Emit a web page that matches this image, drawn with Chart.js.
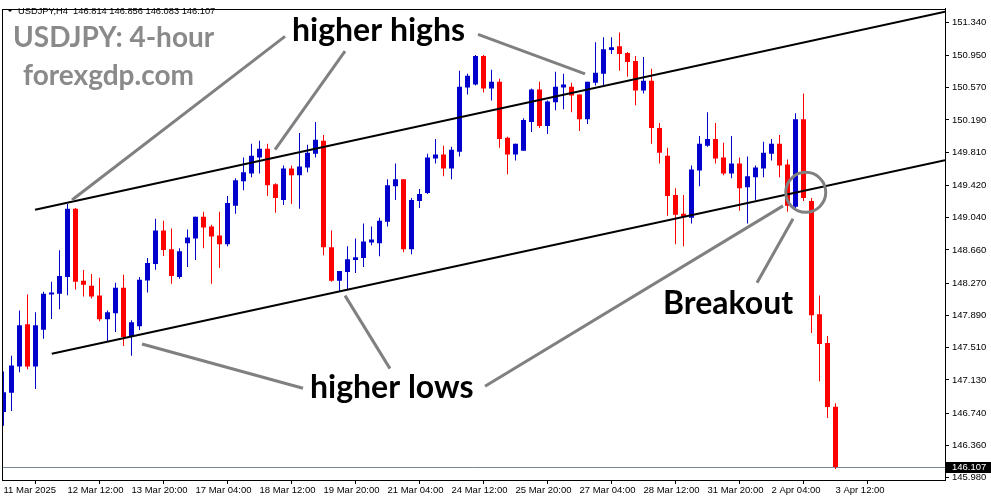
<!DOCTYPE html>
<html>
<head>
<meta charset="utf-8">
<script src="https://cdn.jsdelivr.net/npm/chart.js@4.4.1/dist/chart.umd.min.js"></script>
<style>
  html, body { margin: 0; padding: 0; background: #fff; }
  #c { display: block; }
</style>
</head>
<body>
<canvas id="c" width="991" height="501"></canvas>
<script>
// === USDJPY H4 candles ===
const opens = [
  146.754,146.980,147.288,147.786,147.288,147.720,148.135,148.146,148.343,149.144,
  148.297,148.239,148.123,147.844,147.914,148.216,147.636,147.763,148.300,148.494,
  148.889,148.668,148.343,148.738,148.796,149.051,148.935,148.831,148.726,149.179,
  149.469,149.561,149.747,149.851,149.434,149.248,149.619,149.538,149.631,149.793,
  149.944,148.691,148.297,148.401,148.541,148.564,148.749,148.738,148.993,149.411,
  149.492,148.668,149.237,149.329,149.735,149.782,149.619,149.817,150.571,150.606,
  150.942,150.559,150.640,149.979,149.782,149.828,150.165,150.548,150.118,150.397,
  150.571,150.582,150.490,150.199,150.629,150.733,151.012,151.058,150.977,150.884,
  150.536,150.652,150.095,149.770,149.306,149.086,149.039,149.596,149.886,149.967,
  149.747,149.561,149.677,149.399,149.515,149.619,149.793,149.909,149.666,149.167,
  150.199,149.237,147.902,147.566,146.814
];
const highs = [
  147.230,147.415,147.949,148.135,147.926,148.169,148.285,148.657,149.202,149.155,
  148.425,148.378,148.332,147.949,148.274,148.367,147.833,148.343,148.564,149.028,
  149.005,148.912,148.680,148.900,149.051,149.109,148.958,149.109,149.295,149.503,
  149.747,149.909,149.944,149.909,149.445,149.654,149.654,150.037,149.898,150.165,
  150.014,148.889,148.413,148.703,148.796,148.970,148.935,149.039,149.492,149.677,
  149.492,149.271,149.376,149.793,149.967,149.886,149.875,150.768,150.733,150.954,
  150.954,150.780,150.675,149.991,149.909,150.211,150.559,150.640,150.420,150.756,
  150.733,150.629,150.490,150.640,151.104,151.162,151.162,151.220,150.988,150.942,
  150.930,150.791,150.153,149.863,149.387,149.306,149.654,150.002,150.281,150.153,
  149.921,150.002,149.747,149.759,149.654,149.933,149.967,150.014,149.724,150.269,
  150.501,149.271,148.123,147.647,146.856
];
const lows = [
  146.592,146.766,147.222,147.256,147.024,147.616,147.848,147.961,148.127,148.196,
  148.111,148.088,147.821,147.589,147.694,147.531,147.415,147.717,148.158,148.428,
  148.590,148.262,148.320,148.459,148.541,148.680,148.262,148.448,148.703,149.086,
  149.364,149.515,149.561,149.295,149.097,149.190,149.202,149.144,149.573,149.747,
  148.599,148.285,148.169,148.193,148.390,148.459,148.715,148.587,148.935,149.248,
  148.633,148.610,149.155,149.318,149.677,149.527,149.492,149.759,150.490,150.594,
  150.513,150.420,149.863,149.550,149.712,149.828,150.049,150.095,150.025,150.304,
  150.315,150.281,150.060,150.141,150.594,150.594,150.965,150.768,150.698,150.362,
  150.501,149.909,149.677,149.063,148.726,148.703,148.970,149.411,149.875,149.677,
  149.538,149.503,149.121,148.970,149.248,149.515,149.712,149.515,149.109,149.155,
  149.237,147.682,147.114,146.684,146.083
];
const closes = [
  146.986,147.299,147.775,147.288,147.775,148.146,148.158,148.355,149.144,148.285,
  148.251,148.111,147.844,147.926,148.216,147.636,147.810,148.309,148.506,148.889,
  148.660,148.355,148.645,148.807,149.051,148.923,148.819,148.726,149.213,149.480,
  149.573,149.770,149.851,149.422,149.271,149.619,149.538,149.643,149.805,149.956,
  148.691,148.297,148.413,148.552,148.575,148.761,148.784,149.005,149.422,149.492,
  148.668,149.248,149.318,149.747,149.782,149.619,149.840,150.582,150.710,150.942,
  150.559,150.640,149.967,149.782,149.909,150.188,150.548,150.118,150.408,150.582,
  150.606,150.478,150.199,150.640,150.745,151.023,151.046,150.965,150.872,150.536,
  150.652,150.095,149.805,149.295,149.074,149.051,149.608,149.909,149.967,149.735,
  149.561,149.677,149.387,149.527,149.631,149.805,149.909,149.654,149.179,150.199,
  149.271,147.891,147.554,146.812,146.107
];

// Axis ticks
const dateTickIdx = [0, 8, 16, 24, 32, 40, 48, 56, 64, 72, 80, 88, 96, 104];
const dateTickLabels = ['11 Mar 2025', '12 Mar 12:00', '13 Mar 20:00', '17 Mar 04:00', '18 Mar 12:00',
  '19 Mar 20:00', '21 Mar 04:00', '24 Mar 12:00', '25 Mar 20:00', '27 Mar 04:00',
  '28 Mar 12:00', '31 Mar 20:00', '2 Apr 04:00', '3 Apr 12:00'];
const priceTicks = [151.340, 150.950, 150.570, 150.190, 149.810, 149.420, 149.040, 148.660,
  148.270, 147.890, 147.510, 147.130, 146.740, 146.360, 145.980];
const lastPrice = 146.107;

// Channel lines, [barIndex, price]
const upperChannel = [[3.94, 149.132], [117.69, 151.463]];
const lowerChannel = [[6.03, 147.438], [117.69, 149.717]];

// Grey pointer lines, [barIndex, price] pairs
const pointers = [
  [[35.19, 151.174], [8.56, 149.248]],
  [[42.69, 151.000], [33.94, 149.840]],
  [[59.31, 151.197], [72.69, 150.733]],
  [[37.44, 147.032], [17.31, 147.554]],
  [[48.31, 147.264], [42.69, 148.123]],
  [[60.19, 147.056], [97.44, 149.179]],
  [[94.19, 148.274], [98.69, 149.028]]
];
const breakoutCircle = [100.28, 149.338];
const callouts = [
  { text: 'higher highs', at: [36.06, 151.116] },
  { text: 'higher lows', at: [38.31, 146.916] },
  { text: 'Breakout', at: [82.44, 147.902] }
];

const BULL = '#0000CD';
const BEAR = '#FF0000';
const candleColor = ctx => closes[ctx.dataIndex] >= opens[ctx.dataIndex] ? BULL : BEAR;

const bodies = opens.map((o, i) => ({ x: i, y: [o, closes[i]] }));
const wicks = lows.map((l, i) => ({ x: i, y: [l, highs[i]] }));
const toXY = pts => pts.map(p => ({ x: p[0], y: p[1] }));

const tickFont = { family: 'Liberation Sans, Arial, sans-serif', size: 9.5 };

// price line below the candles
const priceLine = {
    id: 'priceLine',
    beforeDatasetsDraw(chart) {
        const { ctx, chartArea: a, scales: { y } } = chart;
        const py = Math.round(y.getPixelForValue(lastPrice)) + 0.5;
        ctx.save();
        ctx.strokeStyle = '#778899';
        ctx.lineWidth = 1;
        ctx.beginPath();
        ctx.moveTo(a.left, py);
        ctx.lineTo(a.right, py);
        ctx.stroke();
        ctx.restore();
    }
};

// frame, header, watermark and callouts
const overlay = {
    id: 'overlay',
    afterDatasetsDraw(chart) {
        const { ctx, chartArea: a, scales: { x, y } } = chart;
        const px = p => [x.getPixelForValue(p[0]), y.getPixelForValue(p[1])];
        ctx.save();

        // pointers
        ctx.strokeStyle = '#808080';
        ctx.lineWidth = 3;
        ctx.lineCap = 'butt';
        pointers.forEach(seg => {
            const [x1, y1] = px(seg[0]);
            const [x2, y2] = px(seg[1]);
            ctx.beginPath();
            ctx.moveTo(x1, y1);
            ctx.lineTo(x2, y2);
            ctx.stroke();
        });
        const [cx, cy] = px(breakoutCircle);
        ctx.beginPath();
        ctx.arc(cx, cy, 20, 0, Math.PI * 2);
        ctx.stroke();

        // callout texts
        ctx.fillStyle = '#000';
        ctx.font = 'bold 32px Lato, sans-serif';
        ctx.textBaseline = 'alphabetic';
        callouts.forEach(c => {
            const [tx, ty] = px(c.at);
            ctx.fillText(c.text, tx, ty);
        });

        // watermark
        ctx.fillStyle = '#8a8a8a';
        ctx.font = 'bold 28px Lato, sans-serif';
        ctx.fillText('USDJPY: 4-hour', 13, 47);
        ctx.fillText('forexgdp.com', 23, 85);

        // header
        ctx.fillStyle = '#000';
        ctx.beginPath();
        ctx.moveTo(7, 9);
        ctx.lineTo(13, 9);
        ctx.lineTo(10, 12);
        ctx.closePath();
        ctx.fill();
        ctx.font = '9.3px Liberation Sans, Arial, sans-serif';
        ctx.textBaseline = 'middle';
        ctx.fillText('USDJPY,H4  146.814 146.856 146.083 146.107', 18, 11);

        // frame
        ctx.strokeStyle = '#000';
        ctx.lineWidth = 1;
        ctx.strokeRect(Math.round(a.left) + 0.5, Math.round(a.top) + 0.5,
            Math.round(a.right - a.left), Math.round(a.bottom - a.top));

        // last price tag
        const py = Math.round(y.getPixelForValue(lastPrice));
        ctx.fillStyle = '#000';
        ctx.fillRect(Math.round(a.right) + 1, py - 5, chart.width - a.right, 11);
        ctx.fillStyle = '#fff';
        ctx.font = '9.5px Liberation Sans, Arial, sans-serif';
        ctx.textBaseline = 'middle';
        ctx.fillText(lastPrice.toFixed(3), a.right + 7, py + 0.5);
        ctx.restore();
    }
};

new Chart(document.getElementById('c'), {
    type: 'bar',
    data: {
        datasets: [
            { type: 'line', data: toXY(upperChannel), borderColor: '#000', borderWidth: 2,
              pointRadius: 0, order: 0 },
            { type: 'line', data: toXY(lowerChannel), borderColor: '#000', borderWidth: 2,
              pointRadius: 0, order: 0 },
            { data: bodies, backgroundColor: candleColor, barThickness: 5, grouped: false,
              minBarLength: 1, order: 1 },
            { data: wicks, backgroundColor: candleColor, barThickness: 1, grouped: false,
              order: 2 }
        ]
    },
    options: {
        responsive: false,
        animation: false,
        devicePixelRatio: 1,
        layout: { padding: { top: 2, left: 2, right: 0, bottom: 0 } },
        plugins: { legend: { display: false }, tooltip: { enabled: false } },
        elements: { bar: { borderWidth: 0, inflateAmount: 0 } },
        scales: {
            x: {
                type: 'linear',
                min: -0.1875,
                max: 117.6875,
                offset: false,
                grid: { drawOnChartArea: false, drawTicks: true, tickLength: 4, color: '#000' },
                border: { display: true, color: '#000' },
                ticks: {
                    align: 'start', autoSkip: false, maxRotation: 0, padding: 1,
                    color: '#000', font: tickFont,
                    callback: v => dateTickLabels[dateTickIdx.indexOf(v)]
                },
                afterBuildTicks: s => { s.ticks = dateTickIdx.map(v => ({ value: v })); },
                afterFit: s => { s.height = 21; }
            },
            y: {
                type: 'linear',
                position: 'right',
                min: 145.953,
                max: 151.499,
                grid: { drawOnChartArea: false, drawTicks: true, tickLength: 4, color: '#000' },
                border: { display: true, color: '#000' },
                ticks: {
                    autoSkip: false, padding: 3, color: '#000', font: tickFont,
                    callback: v => v.toFixed(3)
                },
                afterBuildTicks: s => { s.ticks = priceTicks.map(v => ({ value: v })); },
                afterFit: s => { s.width = 46; }
            }
        }
    },
    plugins: [priceLine, overlay]
});
</script>
</body>
</html>
